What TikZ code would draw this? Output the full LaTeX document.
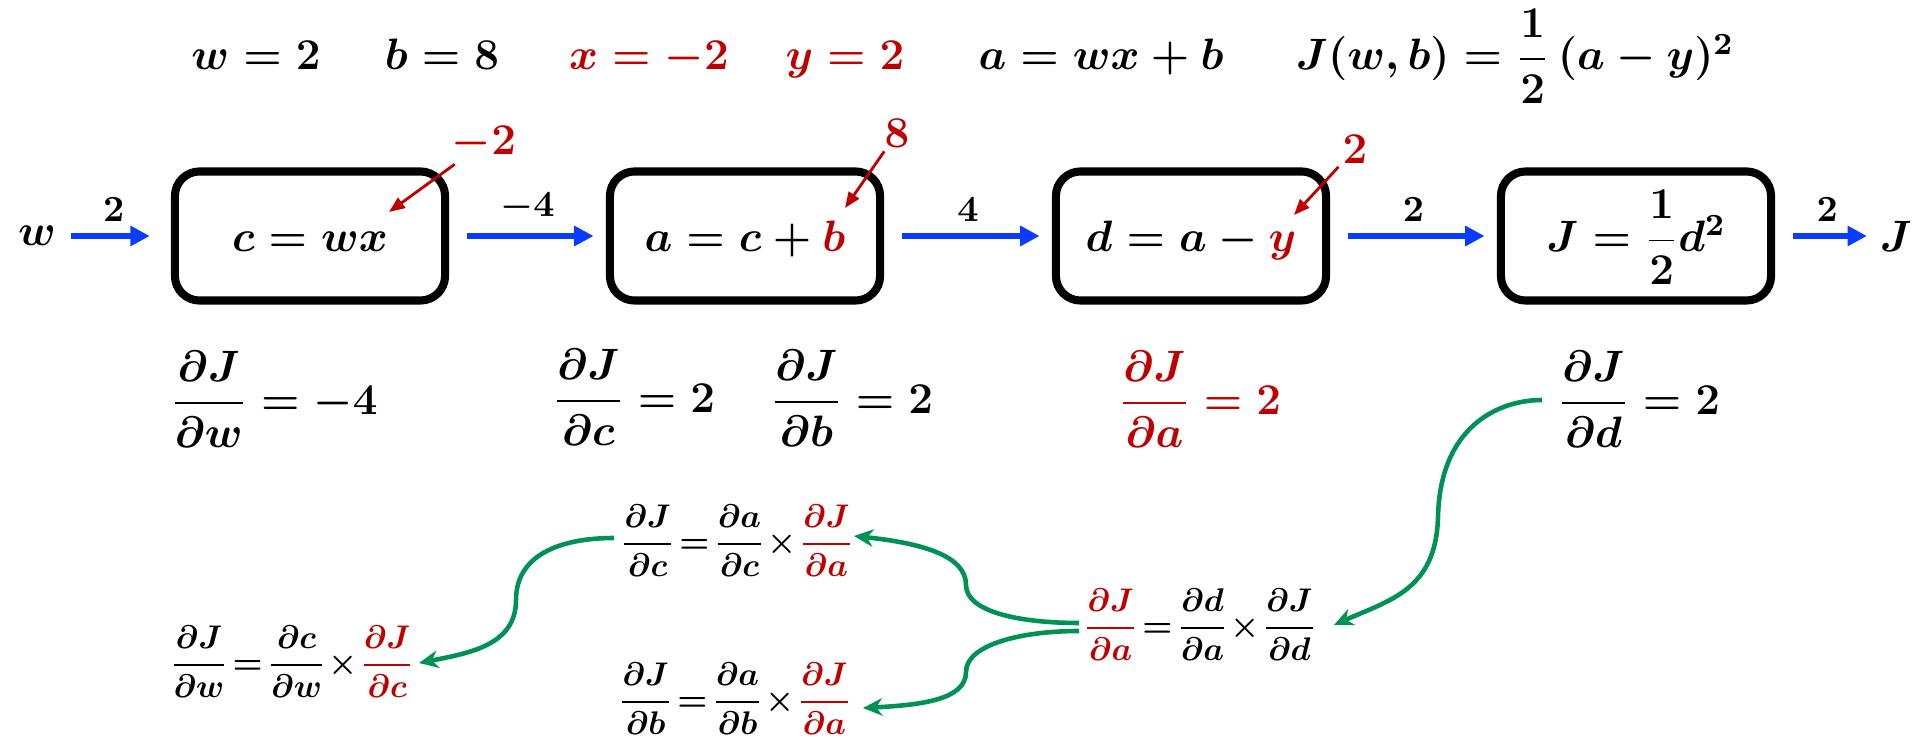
\RequirePackage{fix-cm}
\documentclass[tikz,border=0pt]{standalone}
\usepackage{amsmath}
\usetikzlibrary{arrows.meta,calc}
\definecolor{myred}{RGB}{192,0,0}
\definecolor{myblue}{RGB}{10,60,255}
\definecolor{mygreen}{RGB}{0,145,85}
\newcommand{\Eq}{\!=\!}
\newcommand{\Tm}{\!\times\!}
\begin{document}
\begin{tikzpicture}[x=0.01cm,y=-0.01cm,
  big/.style={font=\fontsize{12.5}{15}\selectfont\boldmath, inner sep=0pt},
  small/.style={font=\fontsize{9.3}{11}\selectfont\boldmath, inner sep=0pt},
  lbl/.style={font=\fontsize{10.5}{12}\selectfont\boldmath, text=black},
  rlbl/.style={font=\fontsize{12.5}{14}\selectfont\boldmath, text=myred, inner sep=1pt},
  opbox/.style={draw, line width=2.3pt, rounded corners=7pt, minimum width=2.70cm,
    minimum height=1.29cm, font=\fontsize{12.5}{15}\selectfont\boldmath,
    text height=9pt, text depth=0.2pt, inner sep=0pt},
  flow/.style={myblue, line width=1.7pt, -{Triangle[length=5.5pt,width=5.5pt]}},
  hint/.style={myred, line width=0.8pt, -{Triangle[length=4.5pt,width=3.5pt]}},
  back/.style={mygreen, line width=1.3pt, -{Stealth[length=5.5pt,width=5pt]}}]
\useasboundingbox (0,0) rectangle (1921,740);

% top row
\node[big, anchor=base] (tw) at (256,70) {$w=2$};
\node[big, anchor=base] (tb) at (442,70) {$b=8$};
\node[big, anchor=base, text=myred] (tx) at (649,70) {$x=-2$};
\node[big, anchor=base, text=myred] (ty) at (845,70) {$y=2$};
\node[big, anchor=base] (ta) at (1101,70) {$a=wx+b$};
\node[big, anchor=base] (tJ) at (1515,70) {$J(w,b)=\dfrac{1}{2}\,(a-y)^2$};

% computation boxes
\node[opbox] (b1) at (310,236) {$c=wx$};
\node[opbox] (b2) at (745,236) {$a=c+{\color{myred}b}$};
\node[opbox] (b3) at (1191,236) {$d=a-{\color{myred}y}$};
\node[opbox] (b4) at (1636,236) {$J=\dfrac{1}{2}d^2$};
\node[big] (w) at (37,236) {$w$};
\node[big] (J) at (1896,236) {$J$};

% forward arrows
\draw[flow, shorten <=4pt, shorten >=6pt] (w.east) -- (b1.west) node[lbl, midway, above] {$2$};
\draw[flow, shorten <=5pt, shorten >=3.5pt] (b1.east) -- (b2.west) node[lbl, midway, above] {$-4$};
\draw[flow, shorten <=5pt, shorten >=3.5pt] (b2.east) -- (b3.west) node[lbl, midway, above] {$4$};
\draw[flow, shorten <=5pt, shorten >=3.5pt] (b3.east) -- (b4.west) node[lbl, midway, above] {$2$};
\draw[flow, shorten <=5pt, shorten >=3.5pt] (b4.east) -- (b4.east -| J.west) node[lbl, midway, above] {$2$};

% red inputs
\node[rlbl] (r1) at (484,143) {$-2$};
\node[rlbl] (r2) at (897,133) {$8$};
\node[rlbl] (r3) at (1355,149) {$2$};
\coordinate (t1) at (389,212);
\coordinate (t2) at (845,208);
\coordinate (t3) at (1294,215);
\draw[hint] (r1) -- (t1);
\draw[hint] (r2) -- (t2);
\draw[hint] (r3) -- (t3);

% derivatives
\node[big] (d1) at (274,399) {$\dfrac{\partial J}{\partial w}=-4$};
\node[big] (d2) at (634,397) {$\dfrac{\partial J}{\partial c}=2$};
\node[big] (d3) at (852,398) {$\dfrac{\partial J}{\partial b}=2$};
\node[big, text=myred] (d4) at (1200,399) {$\dfrac{\partial J}{\partial a}=2$};
\node[big] (d5) at (1639,399) {$\dfrac{\partial J}{\partial d}=2$};

% chain rule formulas
\node[small] (fc) at (737,541) {$\dfrac{\partial J}{\partial c}\Eq\dfrac{\partial a}{\partial c}\Tm{\color{myred}\dfrac{\partial J}{\partial a}}$};
\node[small] (fw) at (292,662) {$\dfrac{\partial J}{\partial w}\Eq\dfrac{\partial c}{\partial w}\Tm{\color{myred}\dfrac{\partial J}{\partial c}}$};
\node[small] (fb) at (735,699) {$\dfrac{\partial J}{\partial b}\Eq\dfrac{\partial a}{\partial b}\Tm{\color{myred}\dfrac{\partial J}{\partial a}}$};
\node[small] (fa) at (1200,625) {${\color{myred}\dfrac{\partial J}{\partial a}}\Eq\dfrac{\partial d}{\partial a}\Tm\dfrac{\partial J}{\partial d}$};

% backward arrows
\draw[back] ($(d5)+(-97,1)$) .. controls (1500,400) and (1440,425) .. (1438,517)
  .. controls (1436,590) and (1390,600) .. ($(fa)+(134,0)$);
\draw[back] ($(fa)+(-121,-2)$) .. controls (1020,623) and (966,612) .. (966,585)
  .. controls (966,555) and (920,543) .. ($(fc)+(117,-5)$);
\draw[back] ($(fa)+(-121,6)$) .. controls (1020,631) and (966,645) .. (966,672)
  .. controls (966,700) and (920,705) .. ($(fb)+(128,9)$);
\draw[back] ($(fc)+(-123,-3)$) .. controls (560,538) and (516,555) .. (516,600)
  .. controls (516,645) and (470,653) .. ($(fw)+(127,1)$);
\end{tikzpicture}
\end{document}
